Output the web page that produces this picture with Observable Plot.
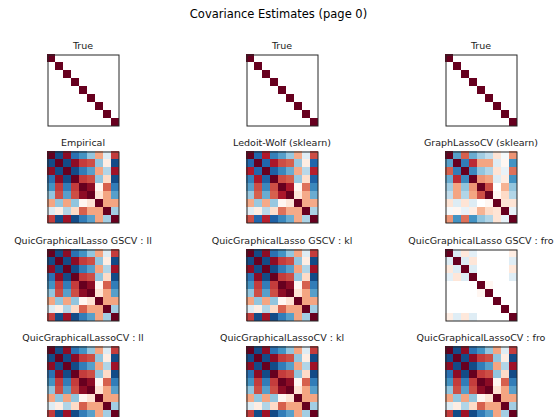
<!DOCTYPE html>
<html>
<head>
<meta charset="utf-8">
<script src="https://cdn.jsdelivr.net/npm/d3@7"></script>
<script src="https://cdn.jsdelivr.net/npm/@observablehq/plot@0.6"></script>
<style>
  html, body { margin: 0; padding: 0; background: #fff; overflow: hidden; }
  #page { position: relative; width: 557px; height: 417px; overflow: hidden; font-family: "DejaVu Sans", sans-serif; color: #000; }
  .ttl { position: absolute; text-align: center; white-space: nowrap; }
  .sub { color: #1a1a1a; }
  .panel { position: absolute; }
  .panel svg { display: block; overflow: visible; }
</style>
</head>
<body>
<div id="page"></div>
<script>
const mainTitle = "Covariance Estimates (page 0)";

const trueCov = [
  [1,0,0,0,0,0,0,0,0],
  [0,1,0,0,0,0,0,0,0],
  [0,0,1,0,0,0,0,0,0],
  [0,0,0,1,0,0,0,0,0],
  [0,0,0,0,1,0,0,0,0],
  [0,0,0,0,0,1,0,0,0],
  [0,0,0,0,0,0,1,0,0],
  [0,0,0,0,0,0,0,1,0],
  [0,0,0,0,0,0,0,0,1]
];

const empirical = [
  [ 1.00, -0.90,  0.90, -0.75, -0.60, -0.40,  0.40, -0.15,  0.70],
  [-0.90,  1.00, -0.90,  0.90,  0.70,  0.65, -0.40,  0.10, -0.90],
  [ 0.90, -0.90,  1.00, -0.90, -0.70, -0.55,  0.40, -0.30,  0.85],
  [-0.75,  0.90, -0.90,  1.00,  0.70,  0.65, -0.40,  0.20, -0.90],
  [-0.60,  0.70, -0.70,  0.70,  1.00,  0.90,  0.05,  0.60, -0.70],
  [-0.40,  0.65, -0.55,  0.65,  0.90,  1.00,  0.15,  0.40, -0.55],
  [ 0.40, -0.40,  0.40, -0.40,  0.05,  0.15,  1.00,  0.40,  0.40],
  [-0.15,  0.10, -0.30,  0.20,  0.60,  0.40,  0.40,  1.00, -0.35],
  [ 0.70, -0.90,  0.85, -0.90, -0.70, -0.55,  0.40, -0.35,  1.00]
];

const ledoitWolf = [
  [ 1.00, -0.80,  0.80, -0.68, -0.55, -0.38,  0.38, -0.14,  0.65],
  [-0.80,  1.00, -0.80,  0.82,  0.65,  0.60, -0.38,  0.10, -0.80],
  [ 0.80, -0.80,  1.00, -0.82, -0.65, -0.50,  0.38, -0.28,  0.78],
  [-0.68,  0.82, -0.82,  1.00,  0.65,  0.60, -0.38,  0.18, -0.82],
  [-0.55,  0.65, -0.65,  0.65,  1.00,  0.82,  0.05,  0.55, -0.65],
  [-0.38,  0.60, -0.50,  0.60,  0.82,  1.00,  0.14,  0.38, -0.50],
  [ 0.38, -0.38,  0.38, -0.38,  0.05,  0.14,  1.00,  0.38,  0.38],
  [-0.14,  0.10, -0.28,  0.18,  0.55,  0.38,  0.38,  1.00, -0.32],
  [ 0.65, -0.80,  0.78, -0.82, -0.65, -0.50,  0.38, -0.32,  1.00]
];

const graphLassoCV = [
  [ 1.00, -0.55,  0.60, -0.50, -0.35, -0.25,  0.15, -0.05,  0.45],
  [-0.55,  1.00, -0.70,  0.75,  0.40,  0.40, -0.15,  0.05, -0.60],
  [ 0.60, -0.70,  1.00, -0.65, -0.40, -0.30,  0.15, -0.10,  0.55],
  [-0.50,  0.75, -0.65,  1.00,  0.45,  0.40, -0.15,  0.10, -0.60],
  [-0.35,  0.40, -0.40,  0.45,  1.00,  0.65,  0.00,  0.35, -0.40],
  [-0.25,  0.40, -0.30,  0.40,  0.65,  1.00,  0.05,  0.20, -0.30],
  [ 0.15, -0.15,  0.15, -0.15,  0.00,  0.05,  1.00,  0.15,  0.15],
  [-0.05,  0.05, -0.10,  0.10,  0.35,  0.20,  0.15,  1.00, -0.10],
  [ 0.45, -0.60,  0.55, -0.60, -0.40, -0.30,  0.15, -0.10,  1.00]
];

const gscvFro = [
  [ 1.00, -0.15,  0.13, -0.12,  0,     0,    0, 0,  0.10],
  [-0.15,  1.00, -0.15,  0.14,  0,     0,    0, 0, -0.14],
  [ 0.13, -0.15,  1.00, -0.15,  0,     0,    0, 0,  0.13],
  [-0.12,  0.14, -0.15,  1.00,  0,     0,    0, 0, -0.14],
  [ 0,     0,     0,     0,     1.00,  0.05, 0, 0,  0],
  [ 0,     0,     0,     0,     0.05,  1.00, 0, 0,  0],
  [ 0,     0,     0,     0,     0,     0,    1, 0,  0],
  [ 0,     0,     0,     0,     0,     0,    0, 1,  0],
  [ 0.10, -0.14,  0.13, -0.14,  0,     0,    0, 0,  1.00]
];

const panelTitles = [
  "True", "True", "True",
  "Empirical", "Ledoit-Wolf (sklearn)", "GraphLassoCV (sklearn)",
  "QuicGraphicalLasso GSCV : ll", "QuicGraphicalLasso GSCV : kl", "QuicGraphicalLasso GSCV : fro",
  "QuicGraphicalLassoCV : ll", "QuicGraphicalLassoCV : kl", "QuicGraphicalLassoCV : fro"
];
const panelMatrices = [
  trueCov, trueCov, trueCov,
  empirical, ledoitWolf, graphLassoCV,
  empirical, empirical, gscvFro,
  empirical, empirical, empirical
];

// matplotlib RdBu_r stops (low -> high)
const rdbuR = ["#053061", "#2166ac", "#4393c3", "#92c5de", "#d1e5f0", "#ffffff",
               "#fddbc7", "#f4a582", "#d6604d", "#b2182b", "#67001f"];

const colLeft = [47, 246, 445];
const rowTop = [54, 151, 249, 346];
const size = 72;

const page = document.getElementById("page");

const t = document.createElement("div");
t.className = "ttl";
t.textContent = mainTitle;
Object.assign(t.style, {left: "0px", width: "557px", top: "6px", fontSize: "11.5px", lineHeight: "16px"});
page.appendChild(t);

const idx = d3.range(9);

panelMatrices.forEach((m, k) => {
  const r = Math.floor(k / 3), c = k % 3;
  const data = [];
  m.forEach((row, i) => row.forEach((v, j) => data.push({row: i, col: j, value: v})));

  const chart = Plot.plot({
    width: size, height: size, margin: 0,
    x: {axis: null, domain: idx, padding: 0, round: false},
    y: {axis: null, domain: idx, padding: 0, round: false},
    color: {type: "linear", domain: rdbuR.map((_, i) => -1 + i * 0.2), range: rdbuR, interpolate: "rgb"},
    marks: [
      Plot.cell(data, {x: "col", y: "row", fill: "value", shapeRendering: "crispEdges"}),
      Plot.frame({stroke: "#262626", strokeWidth: 1, inset: 0.5})
    ]
  });
  const div = document.createElement("div");
  div.className = "panel";
  Object.assign(div.style, {left: colLeft[c] + "px", top: rowTop[r] + "px"});
  div.appendChild(chart);
  page.appendChild(div);

  const tt = document.createElement("div");
  tt.className = "ttl sub";
  tt.textContent = panelTitles[k];
  Object.assign(tt.style, {
    left: (colLeft[c] + size / 2 - 100) + "px", width: "200px",
    top: (rowTop[r] - 14) + "px", fontSize: "9.5px", lineHeight: "12px"
  });
  page.appendChild(tt);
});
</script>
</body>
</html>
